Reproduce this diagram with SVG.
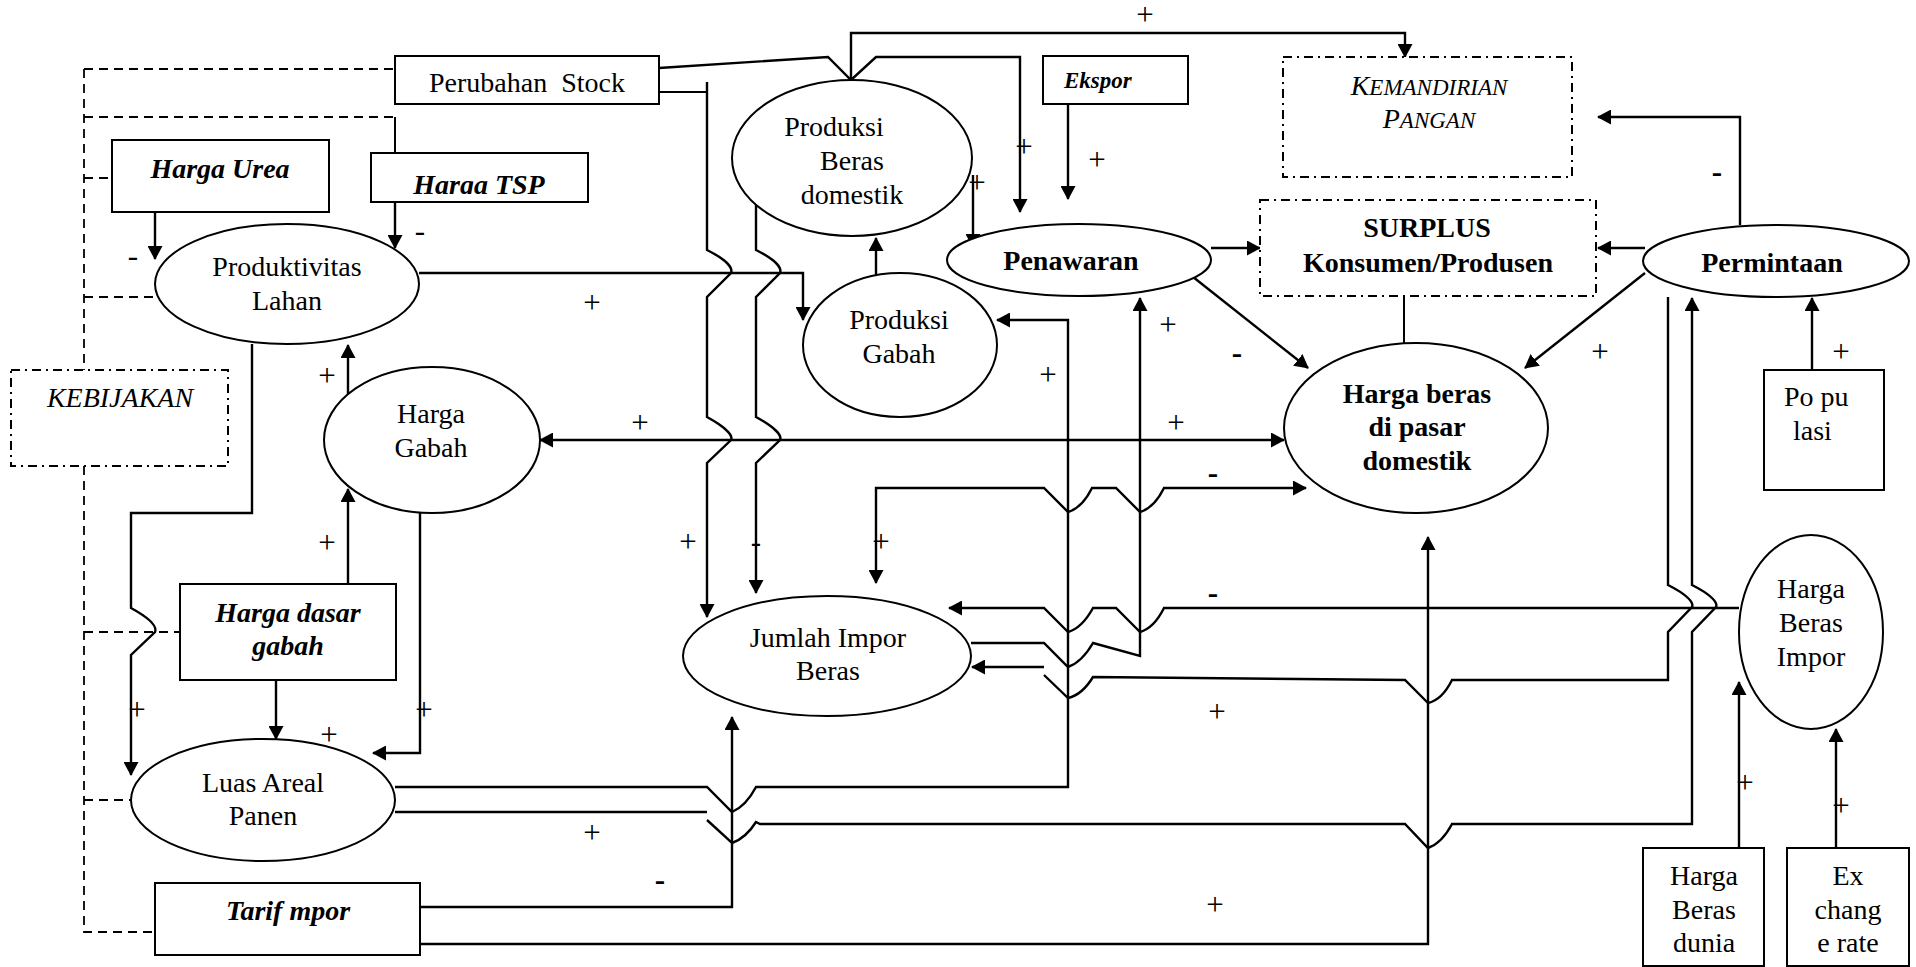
<svg xmlns="http://www.w3.org/2000/svg" width="1916" height="967" viewBox="0 0 1916 967">
<style>
text{font-family:'Liberation Serif','Times New Roman',serif;font-size:28px;fill:#000;text-anchor:middle}
.b{font-weight:bold}
.bi{font-weight:bold;font-style:italic}
.i{font-style:italic}
.lab{font-size:31px}
.box{fill:#fff;stroke:#000;stroke-width:2}
.ell{fill:#fff;stroke:#000;stroke-width:2}
.dd{fill:#fff;stroke:#000;stroke-width:2;stroke-dasharray:9 5 2 5}
.dash{fill:none;stroke:#000;stroke-width:1.8;stroke-dasharray:9 6}
.ln{fill:none;stroke:#000;stroke-width:2}
.ar{fill:none;stroke:#000;stroke-width:2.4;marker-end:url(#ah)}
.ar2{fill:none;stroke:#000;stroke-width:2.4;marker-end:url(#ah);marker-start:url(#ah)}
</style>
<defs>
<marker id="ah" viewBox="0 0 14 15" refX="13" refY="7.5" markerWidth="14" markerHeight="15" markerUnits="userSpaceOnUse" orient="auto-start-reverse"><path d="M0,0 L14,7.5 L0,15 z" fill="#000"/></marker>
<clipPath id="tspclip"><rect x="371" y="153" width="217" height="41"/></clipPath>
</defs>
<rect width="1916" height="967" fill="#fff"/>

<g id="connectors">
<path class="dash" d="M84 69 L395 69 M84 69 L84 370 M84 117 L395 117 M84 178 L112 178 M84 297 L175 297 M84 466 L84 932 L155 932 M84 632 L180 632 M84 800 L131 800"/>
<path class="ln" d="M395 117 L395 153"/>
<path class="ar" d="M155 212 L155 259"/>
<path class="ar" d="M395 202 L395 248"/>
<path class="ar" d="M659 68 L828 57 L851 80 L876 57 L1020 57 L1020 212"/>
<path class="ar" d="M851 80 L851 33 L1405 33 L1405 57"/>
<path class="ln" d="M659 92 L707 92"/>
<path class="ar" d="M707 82 L707 250 C727 260 733 268 731 273 L707 297 L707 417 C727 428 733 436 731 440 L707 463 L707 617"/>
<path class="ar" d="M756 200 L756 250 C776 260 782 268 780 273 L756 297 L756 417 C776 428 782 436 780 440 L756 463 L756 593"/>
<path class="ar" d="M419 273 L803 273 L803 320"/>
<path class="ar" d="M876 285 L876 238"/>
<path class="ar" d="M973 175 L973 247"/>
<path class="ar" d="M1068 104 L1068 199"/>
<path class="ar" d="M1211 248 L1260 248"/>
<path class="ar" d="M1645 248 L1598 248"/>
<path class="ar" d="M1740 225 L1740 117 L1598 117"/>
<path class="ln" d="M1404 296 L1404 344"/>
<path class="ar" d="M1188 273 L1308 368"/>
<path class="ar" d="M1645 273 L1525 368"/>
<path class="ar" d="M1812 370 L1812 298"/>
<path class="ar2" d="M540 440 L1284 440"/>
<path class="ar2" d="M876 583 L876 488 L1044 488 L1068 512 Q1082 508 1092 488 L1116 488 L1140 512 Q1154 508 1164 488 L1306 488"/>
<path class="ar" d="M1739 608 L1164 608 Q1154 628 1140 632 L1116 608 L1093 608 Q1082 628 1068 632 L1044 608 L949 608"/>
<path class="ar" d="M971 643 L1044 643 L1068 667 Q1082 662 1093 643 L1140 656 L1140 298"/>
<path class="ar" d="M1668 297 L1668 585 C1688 595 1694 603 1692 607 L1668 632 L1668 680 L1452 680 Q1442 700 1428 703 L1405 680 L1093 677 Q1082 695 1068 698 L1044 675 M1044 667 L972 667"/>
<path class="ar" d="M395 787 L707 787 L732 812 Q746 806 756 787 L1068 787 L1068 320 L997 320"/>
<path class="ar" d="M395 812 L707 812 M707 820 L732 843 Q746 838 756 822 L760 824 L1405 824 L1428 848 Q1442 843 1452 824 L1692 824 L1692 632 L1716 607 C1718 603 1712 595 1692 585 L1692 298"/>
<path class="ar" d="M420 907 L732 907 L732 717"/>
<path class="ar" d="M420 944 L1428 944 L1428 537"/>
<path class="ar" d="M1739 848 L1739 682"/>
<path class="ar" d="M1836 848 L1836 729"/>
<path class="ar" d="M252 344 L252 513 L131 513 L131 608 C151 619 157 627 155 632 L131 655 L131 775"/>
<path class="ar" d="M420 513 L420 753 L373 753"/>
<path class="ar" d="M348 584 L348 489"/>
<path class="ar" d="M348 406 L348 345"/>
<path class="ar" d="M276 680 L276 739"/>
<g>
<text class="lab" x="133" y="266">-</text>
<text class="lab" x="420" y="241">-</text>
<text class="lab" x="592" y="313">+</text>
<text class="lab" x="1145" y="25">+</text>
<text class="lab" x="1024" y="157">+</text>
<text class="lab" x="1097" y="170">+</text>
<text class="lab" x="977" y="193">+</text>
<text class="lab b" x="1717" y="182">-</text>
<text class="lab" x="1048" y="385">+</text>
<text class="lab" x="1168" y="335">+</text>
<text class="lab b" x="1237" y="363">-</text>
<text class="lab" x="1600" y="362">+</text>
<text class="lab" x="1841" y="362">+</text>
<text class="lab" x="327" y="386">+</text>
<text class="lab" x="640" y="433">+</text>
<text class="lab" x="1176" y="433">+</text>
<text class="lab b" x="1213" y="483">-</text>
<text class="lab" x="688" y="552">+</text>
<text class="lab" x="756" y="552">-</text>
<text class="lab" x="881" y="552">+</text>
<text class="lab" x="327" y="553">+</text>
<text class="lab b" x="1213" y="603">-</text>
<text class="lab" x="137" y="720">+</text>
<text class="lab" x="424" y="720">+</text>
<text class="lab" x="329" y="745">+</text>
<text class="lab" x="1217" y="722">+</text>
<text class="lab" x="592" y="843">+</text>
<text class="lab b" x="660" y="890">-</text>
<text class="lab" x="1215" y="915">+</text>
<text class="lab" x="1745" y="793">+</text>
<text class="lab" x="1841" y="816">+</text>
</g>
</g>

<g id="perubahan-stock"><rect class="box" x="395" y="56" width="264" height="48"/><text x="527" y="92" xml:space="preserve">Perubahan  Stock</text></g>
<g id="harga-urea"><rect class="box" x="112" y="140" width="217" height="72"/><text class="bi" x="220" y="178">Harga Urea</text></g>
<g id="harga-tsp"><rect class="box" x="371" y="153" width="217" height="49"/><text class="bi" x="479" y="194" clip-path="url(#tspclip)">Harga TSP</text></g>
<g id="produktivitas-lahan"><ellipse class="ell" cx="287" cy="284" rx="132" ry="60"/><text x="287" y="276">Produktivitas</text><text x="287" y="310">Lahan</text></g>
<g id="kebijakan"><rect class="dd" x="11" y="370" width="217" height="96"/><text class="i" x="120" y="407">KEBIJAKAN</text></g>
<g id="harga-gabah"><ellipse class="ell" cx="432" cy="440" rx="108" ry="73"/><text x="431" y="423">Harga</text><text x="431" y="457">Gabah</text></g>
<g id="harga-dasar-gabah"><rect class="box" x="180" y="584" width="216" height="96"/><text class="bi" x="288" y="622">Harga dasar</text><text class="bi" x="288" y="655">gabah</text></g>
<g id="luas-areal-panen"><ellipse class="ell" cx="263" cy="800" rx="132" ry="61"/><text x="263" y="792">Luas Areal</text><text x="263" y="825">Panen</text></g>
<g id="tarif-impor"><rect class="box" x="155" y="883" width="265" height="72"/><text class="bi" x="288" y="920">Tarif mpor</text></g>
<g id="produksi-beras-domestik"><ellipse class="ell" cx="852" cy="158" rx="120" ry="78"/><text x="834" y="136">Produksi</text><text x="852" y="170">Beras</text><text x="852" y="204">domestik</text></g>
<g id="produksi-gabah"><ellipse class="ell" cx="900" cy="345" rx="97" ry="72"/><text x="899" y="329">Produksi</text><text x="899" y="363">Gabah</text></g>
<g id="ekspor"><rect class="box" x="1043" y="56" width="145" height="48"/><text class="bi" x="1064" y="88" style="font-size:23px;text-anchor:start">Ekspor</text></g>
<g id="penawaran"><ellipse class="ell" cx="1079" cy="260" rx="132" ry="36"/><text class="b" x="1071" y="270">Penawaran</text></g>
<g id="jumlah-impor-beras"><ellipse class="ell" cx="827" cy="656" rx="144" ry="60"/><text x="828" y="647">Jumlah Impor</text><text x="828" y="680">Beras</text></g>
<g id="kemandirian-pangan"><rect class="dd" x="1283" y="57" width="289" height="120"/><text class="i" x="1429" y="95">K<tspan style="font-size:23px">EMANDIRIAN</tspan></text><text class="i" x="1429" y="128">P<tspan style="font-size:23px">ANGAN</tspan></text></g>
<g id="surplus"><rect class="dd" x="1260" y="200" width="336" height="96"/><text class="b" x="1427" y="237">SURPLUS</text><text class="b" x="1428" y="272">Konsumen/Produsen</text></g>
<g id="permintaan"><ellipse class="ell" cx="1776" cy="261" rx="133" ry="36"/><text class="b" x="1772" y="272">Permintaan</text></g>
<g id="harga-beras-domestik"><ellipse class="ell" cx="1416" cy="428" rx="132" ry="85"/><text class="b" x="1417" y="403">Harga beras</text><text class="b" x="1417" y="436">di pasar</text><text class="b" x="1417" y="470">domestik</text></g>
<g id="populasi"><rect class="box" x="1764" y="370" width="120" height="120"/><text x="1784" y="406" style="text-anchor:start">Po pu</text><text x="1793" y="440" style="text-anchor:start">lasi</text></g>
<g id="harga-beras-impor"><ellipse class="ell" cx="1811" cy="632" rx="72" ry="97"/><text x="1811" y="598">Harga</text><text x="1811" y="632">Beras</text><text x="1811" y="666">Impor</text></g>
<g id="harga-beras-dunia"><rect class="box" x="1643" y="848" width="121" height="118"/><text x="1704" y="885">Harga</text><text x="1704" y="919">Beras</text><text x="1704" y="952">dunia</text></g>
<g id="exchange-rate"><rect class="box" x="1787" y="848" width="122" height="118"/><text x="1848" y="885">Ex</text><text x="1848" y="919">chang</text><text x="1848" y="952">e rate</text></g>
</svg>
